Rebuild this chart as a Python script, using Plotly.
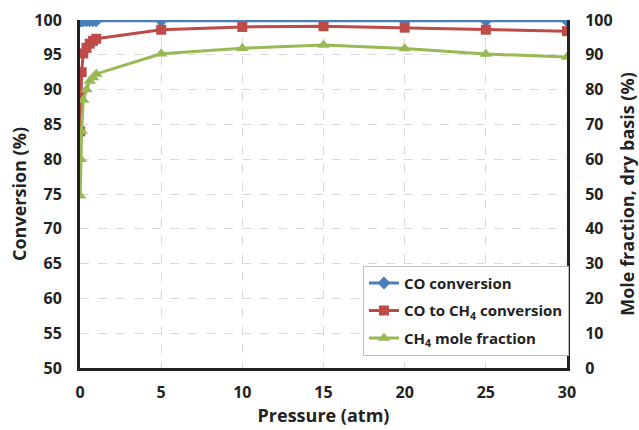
import plotly.graph_objects as go

pressure = [0.01, 0.05, 0.1, 0.2, 0.4, 0.6, 0.8, 1.0, 5, 10, 15, 20, 25, 30]
co_conversion = [99.9, 99.9, 99.9, 99.9, 99.9, 99.9, 99.9, 99.9, 99.9, 99.9, 99.9, 99.9, 99.9, 99.9]
co_to_ch4 = [84.0, 89.0, 92.5, 95.2, 96.0, 96.6, 97.0, 97.3, 98.6, 99.0, 99.1, 98.9, 98.6, 98.4]
ch4_fraction = [49.5, 60.0, 68.0, 77.0, 80.0, 82.5, 83.5, 84.5, 90.3, 91.9, 92.8, 91.8, 90.2, 89.4]

blue = "#4a7ebb"
red = "#be4b48"
green = "#98b954"
font = dict(family="Open Sans, Lato, sans-serif", size=16, color="#222222", weight="bold")

fig = go.Figure()
fig.add_trace(go.Scatter(x=pressure, y=co_conversion, name="CO conversion", mode="lines+markers",
                         legendgroup="a",
                         line=dict(color=blue, width=3), marker=dict(symbol="diamond", size=10, color=blue)))
fig.add_trace(go.Scatter(x=pressure, y=co_to_ch4, name="CO to CH<sub>4</sub> conversion", mode="lines+markers",
                         legendgroup="b",
                         line=dict(color=red, width=3), marker=dict(symbol="square", size=10, color=red)))
fig.add_trace(go.Scatter(x=pressure, y=ch4_fraction, name="CH<sub>4</sub> mole fraction", mode="lines+markers",
                         yaxis="y2", legendgroup="c",
                         line=dict(color=green, width=3), marker=dict(symbol="triangle-up", size=11, color=green)))

fig.update_layout(
    width=639, height=430,
    margin=dict(l=80, r=72, t=20, b=62),
    paper_bgcolor="white", plot_bgcolor="white",
    font=font,
    xaxis=dict(range=[0, 30], dtick=5, tick0=0, showline=True, linecolor="#222222", linewidth=3,
               mirror=False, showgrid=True, gridcolor="#d9d9d9", griddash="dash", gridwidth=1,
               zeroline=False, ticks="", tickfont=dict(size=16), ticklabelstandoff=8,
               automargin=False,
               title=dict(text="Pressure (atm)", font=dict(size=18), standoff=6)),
    yaxis=dict(range=[50, 100], dtick=5, tick0=50, showline=True, linecolor="#222222", linewidth=3,
               showgrid=True, gridcolor="#d9d9d9", griddash="dash", gridwidth=1, zeroline=False,
               ticks="", tickfont=dict(size=16), ticklabelstandoff=12, automargin=False,
               title=dict(text="Conversion (%)", font=dict(size=18), standoff=4)),
    yaxis2=dict(range=[0, 100], dtick=10, tick0=0, overlaying="y", side="right", showline=True,
                linecolor="#222222", linewidth=3, showgrid=False, zeroline=False, ticks="",
                tickfont=dict(size=16), ticklabelstandoff=12, automargin=False,
                title=dict(text="Mole fraction, dry basis (%)", font=dict(size=18), standoff=12)),
    legend=dict(x=0.581, y=0.035, xanchor="left", yanchor="bottom", bgcolor="white",
                bordercolor="#bfbfbf", borderwidth=1, font=dict(size=15), tracegroupgap=5,
                itemwidth=30),
    showlegend=True,
)

fig.write_html("out.html")
